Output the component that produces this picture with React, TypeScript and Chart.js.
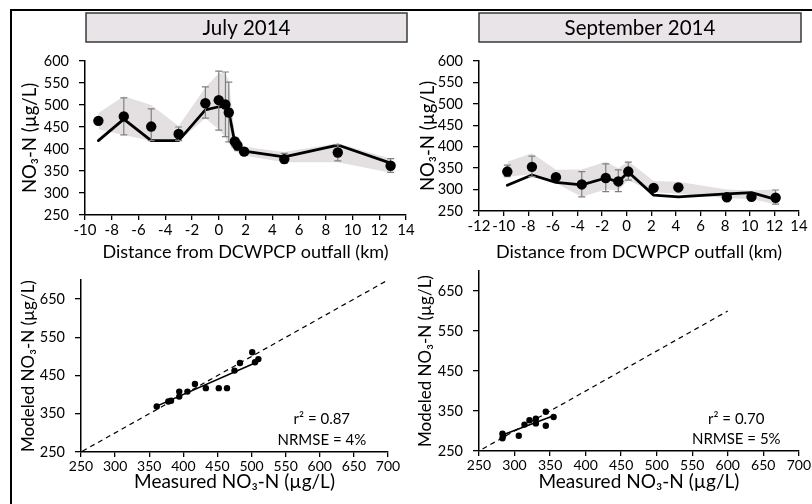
import React, { useEffect, useRef } from "react";
import { Chart, registerables } from "chart.js";
Chart.register(...registerables);

// ---------------- DATA ----------------
// July 2014 – measured (distance km, NO3-N µg/L) with error bars
const julyDist = [-9, -7.1, -5.05, -3, -1, 0, 0.5, 0.75, 1.2, 1.4, 1.9, 4.9, 8.9, 12.85];
const julyMeasured = [464, 474, 451, 434, 504, 511, 501, 483, 417, 408, 394, 377, 392, 362];
const julyErrHigh = [470, 516, 491, 450, 541, 577, 575, 552, 425, 418, 402, 390, 410, 378];
const julyErrLow = [458, 432, 419, 419, 470, 443, 428, 416, 405, 396, 386, 368, 373, 347];
// July model line
const julyModelDist = [-9, -7.1, -5.05, -3, -1, 0, 0.5, 0.75, 1.2, 1.9, 4.9, 8.9, 12.85];
const julyModel = [419, 468, 419, 419, 489, 496, 497, 485, 415, 395, 382, 409, 368];
// July model uncertainty band
const julyBandHigh = [482, 520, 500, 452, 540, 572, 572, 555, 430, 420, 405, 393, 413, 378];
const julyBandLow = [445, 432, 418, 418, 470, 445, 425, 412, 400, 392, 385, 370, 370, 346];

// September 2014
const septDist = [-9.7, -7.7, -5.75, -3.65, -1.7, -0.68, 0.13, 2.19, 4.2, 8.14, 10.14, 12.1];
const septMeasured = [342, 353, 329, 312, 327, 319, 342, 304, 305, 282, 283, 281];
const septErrHigh = [357, 378, null, 342, 360, 346, 364, null, null, null, null, 299];
const septErrLow = [330, 330, null, 283, 295, 295, 322, null, null, null, null, 266];
const septModel = [310, 334, 317, 311, 327, 318, 341, 287, 283, 290, 293, 277];
const septBandHigh = [365, 385, 346, 347, 365, 350, 366, 320, 318, 300, 298, 300];
const septBandLow = [330, 336, 315, 283, 300, 298, 322, 294, 290, 280, 278, 266];

// Scatter: measured vs modeled
const julyScMeasured = [361, 378, 382, 394, 394, 406, 417, 433, 452, 464, 475, 483, 501, 505, 510];
const julyScModeled = [369, 382, 384, 395, 408, 408, 428, 417, 417, 417, 463, 483, 511, 485, 493];
const julyFitX = [361, 510];
const julyFitY = [370, 487];
const septScMeasured = [283, 284, 283, 306, 314, 321, 330, 330, 344, 344, 355];
const septScModeled = [293, 289, 282, 288, 316, 327, 331, 319, 348, 313, 335];
const septFitX = [283, 353];
const septFitY = [290, 337];
const julyOneToOne = [252, 700];
const septOneToOne = [255, 600];
const scatterYTicks = [250, 350, 450, 550, 650];

const panelTitles = ["July 2014", "September 2014"];
const statsJuly = ["r² = 0.87", "NRMSE = 4%"];
const statsSept = ["r² = 0.70", "NRMSE = 5%"];
const distTitle = "Distance from DCWPCP outfall (km)";
const concTitle = "NO₃-N (µg/L)";
const modeledTitle = "Modeled NO₃-N (µg/L)";
const measuredTitle = "Measured NO₃-N (µg/L)";

// ---------------- STYLE / LAYOUT ----------------
const FONT = "Lato, 'Open Sans', sans-serif";
const W = 812;
const H = 504;
const BAND = "#e4e0e2";
const ERR = "#808080";

const zip = (xs: number[], ys: (number | null)[]) => xs.map((x, i) => ({ x, y: ys[i] as number }));

type Spec = {
  L: number; R: number; T: number; B: number; yW: number; xH: number;
  xMin: number; xMax: number; xStep: number; yMin: number; yMax: number; yStep: number;
  xTitle: string; yTitle: string; yTicks?: number[];
  xTickSize: number; yTickSize: number; xTitleSize: number; yTitleSize: number;
};

function makeOptions(s: Spec): any {
  return {
    responsive: false,
    maintainAspectRatio: false,
    animation: false,
    events: [],
    layout: { padding: { left: s.L - s.yW, top: s.T, right: W - s.R, bottom: H - s.B - s.xH } },
    plugins: { legend: { display: false }, tooltip: { enabled: false }, title: { display: false } },
    scales: {
      x: {
        type: "linear",
        min: s.xMin,
        max: s.xMax,
        afterFit: (sc: any) => { sc.height = s.xH; },
        ticks: { stepSize: s.xStep, autoSkip: false, maxRotation: 0, color: "#000", padding: 1, font: { family: FONT, size: s.xTickSize } },
        grid: { drawOnChartArea: false, drawTicks: true, tickLength: 5, color: "#000", lineWidth: 1.3 },
        border: { display: true, color: "#000", width: 1.5 },
        title: { display: true, text: s.xTitle, color: "#000", padding: 0, font: { family: FONT, size: s.xTitleSize } },
      },
      y: {
        type: "linear",
        min: s.yMin,
        max: s.yMax,
        afterFit: (sc: any) => { sc.width = s.yW; },
        afterBuildTicks: (sc: any) => {
          if (s.yTicks) sc.ticks = s.yTicks.map((v) => ({ value: v }));
        },
        ticks: { stepSize: s.yStep, autoSkip: false, color: "#000", padding: 10, font: { family: FONT, size: s.yTickSize } },
        grid: { drawOnChartArea: false, drawTicks: true, tickLength: 6, color: "#000", lineWidth: 1.3 },
        border: { display: true, color: "#000", width: 1.5 },
        title: { display: true, text: s.yTitle, color: "#000", padding: 0, font: { family: FONT, size: s.yTitleSize } },
      },
    },
  };
}

function errorBarPlugin(xs: number[], hi: (number | null)[], lo: (number | null)[]) {
  return {
    id: "errorBars",
    beforeDatasetDraw(chart: any, args: any) {
      if (args.index !== 0) return;
      const { ctx, scales } = chart;
      const x = scales.x, y = scales.y;
      ctx.save();
      ctx.strokeStyle = ERR;
      ctx.lineWidth = 1.2;
      xs.forEach((xv, i) => {
        const h = hi[i], l = lo[i];
        if (h == null || l == null) return;
        const px = x.getPixelForValue(xv);
        const pt = y.getPixelForValue(h);
        const pb = y.getPixelForValue(l);
        ctx.beginPath();
        ctx.moveTo(px, pt); ctx.lineTo(px, pb);
        ctx.moveTo(px - 3.5, pt); ctx.lineTo(px + 3.5, pt);
        ctx.moveTo(px - 3.5, pb); ctx.lineTo(px + 3.5, pb);
        ctx.stroke();
      });
      ctx.restore();
    },
  };
}

function titleBoxPlugin(text: string, box: [number, number, number, number]) {
  return {
    id: "titleBox",
    afterDraw(chart: any) {
      const { ctx } = chart;
      const [x, y, w, h] = box;
      ctx.save();
      ctx.fillStyle = "#e8e4e7";
      ctx.fillRect(x, y, w, h);
      ctx.strokeStyle = "#3a3a3a";
      ctx.lineWidth = 1.5;
      ctx.strokeRect(x, y, w, h);
      ctx.fillStyle = "#000";
      ctx.font = `20.5px ${FONT}`;
      ctx.textAlign = "center";
      ctx.textBaseline = "middle";
      ctx.fillText(text, x + w / 2, y + h / 2 + 1);
      ctx.restore();
    },
  };
}

const framePlugin = {
  id: "frame",
  afterDraw(chart: any) {
    const { ctx } = chart;
    ctx.save();
    ctx.strokeStyle = "#000";
    ctx.lineWidth = 2;
    ctx.beginPath();
    ctx.moveTo(11, H + 2);
    ctx.lineTo(11, 10);
    ctx.lineTo(W + 2, 10);
    ctx.stroke();
    ctx.restore();
  },
};

function statsPlugin(lines: string[], xv: number, yv: number[]) {
  return {
    id: "stats",
    afterDatasetsDraw(chart: any) {
      const { ctx, scales } = chart;
      ctx.save();
      ctx.fillStyle = "#000";
      ctx.font = `15px ${FONT}`;
      ctx.textAlign = "center";
      ctx.textBaseline = "middle";
      lines.forEach((t, i) => {
        ctx.fillText(t, scales.x.getPixelForValue(xv), scales.y.getPixelForValue(yv[i]));
      });
      ctx.restore();
    },
  };
}

function profileDatasets(dist: number[], meas: number[], mdist: number[], model: number[], bh: number[], bl: number[]) {
  return [
    { type: "line", data: zip(dist, meas), showLine: false, pointRadius: 5.2, pointBackgroundColor: "#000", pointBorderColor: "#000", pointBorderWidth: 0, borderColor: "#000" },
    { type: "line", data: zip(mdist, model), borderColor: "#000", borderWidth: 2.8, borderJoinStyle: "round", borderCapStyle: "round", pointRadius: 0, fill: false },
    { type: "line", data: zip(dist, bh), borderColor: "rgba(0,0,0,0)", backgroundColor: BAND, pointRadius: 0, fill: "+1" },
    { type: "line", data: zip(dist, bl), borderColor: "rgba(0,0,0,0)", pointRadius: 0, fill: false },
  ];
}

function scatterDatasets(mx: number[], my: number[], fx: number[], fy: number[], one: number[]) {
  return [
    { type: "line", data: zip(mx, my), showLine: false, pointRadius: 3.2, pointBackgroundColor: "#000", pointBorderColor: "#000", pointBorderWidth: 0, borderColor: "#000" },
    { type: "line", data: zip(fx, fy), borderColor: "#000", borderWidth: 1.6, pointRadius: 0, fill: false },
    { type: "line", data: zip(one, one), borderColor: "#000", borderWidth: 1.2, borderDash: [5, 4], pointRadius: 0, fill: false },
  ];
}

export default function App() {
  const r1 = useRef<HTMLCanvasElement>(null);
  const r2 = useRef<HTMLCanvasElement>(null);
  const r3 = useRef<HTMLCanvasElement>(null);
  const r4 = useRef<HTMLCanvasElement>(null);

  useEffect(() => {
    const top = { xTickSize: 15, yTickSize: 14.5, xTitleSize: 18, yTitleSize: 18.5 };
    const bot = { xTickSize: 14, yTickSize: 14.5, xTitleSize: 19, yTitleSize: 17 };
    const specTL: Spec = { ...top, L: 85, R: 406, T: 61, B: 215, yW: 66, xH: 48, xMin: -10, xMax: 14, xStep: 2, yMin: 250, yMax: 600, yStep: 50, xTitle: distTitle, yTitle: concTitle };
    const specTR: Spec = { ...top, L: 479, R: 799, T: 61, B: 211, yW: 62, xH: 52, xMin: -12, xMax: 14, xStep: 2, yMin: 250, yMax: 600, yStep: 50, xTitle: distTitle, yTitle: concTitle };
    const specBL: Spec = { ...bot, L: 81, R: 388, T: 280, B: 452, yW: 63, xH: 41, xMin: 250, xMax: 700, xStep: 50, yMin: 250, yMax: 700, yStep: 100, xTitle: measuredTitle, yTitle: modeledTitle, yTicks: scatterYTicks };
    const specBR: Spec = { ...bot, L: 479, R: 801, T: 271, B: 451, yW: 64, xH: 42, xMin: 250, xMax: 700, xStep: 50, yMin: 250, yMax: 700, yStep: 100, xTitle: measuredTitle, yTitle: modeledTitle, yTicks: scatterYTicks };

    const charts: Chart[] = [];
    charts.push(new Chart(r1.current!, {
      type: "line",
      data: { datasets: profileDatasets(julyDist, julyMeasured, julyModelDist, julyModel, julyBandHigh, julyBandLow) as any },
      options: makeOptions(specTL),
      plugins: [errorBarPlugin(julyDist, julyErrHigh, julyErrLow), titleBoxPlugin(panelTitles[0], [86, 13, 321, 29]), framePlugin],
    }));
    charts.push(new Chart(r2.current!, {
      type: "line",
      data: { datasets: profileDatasets(septDist, septMeasured, septDist, septModel, septBandHigh, septBandLow) as any },
      options: makeOptions(specTR),
      plugins: [errorBarPlugin(septDist, septErrHigh, septErrLow), titleBoxPlugin(panelTitles[1], [479, 13, 322, 29])],
    }));
    charts.push(new Chart(r3.current!, {
      type: "line",
      data: { datasets: scatterDatasets(julyScMeasured, julyScModeled, julyFitX, julyFitY, julyOneToOne) as any },
      options: makeOptions(specBL),
      plugins: [statsPlugin(statsJuly, 603, [336, 280])],
    }));
    charts.push(new Chart(r4.current!, {
      type: "line",
      data: { datasets: scatterDatasets(septScMeasured, septScModeled, septFitX, septFitY, septOneToOne) as any },
      options: makeOptions(specBR),
      plugins: [statsPlugin(statsSept, 612, [330, 279])],
    }));
    return () => charts.forEach((c) => c.destroy());
  }, []);

  const cs: React.CSSProperties = { position: "absolute", left: 0, top: 0, width: W, height: H };
  return (
    <div style={{ position: "absolute", left: 0, top: 0, width: W, height: H, background: "#fff", overflow: "hidden" }}>
      <canvas ref={r1} width={W} height={H} style={cs} />
      <canvas ref={r2} width={W} height={H} style={cs} />
      <canvas ref={r3} width={W} height={H} style={cs} />
      <canvas ref={r4} width={W} height={H} style={cs} />
    </div>
  );
}
